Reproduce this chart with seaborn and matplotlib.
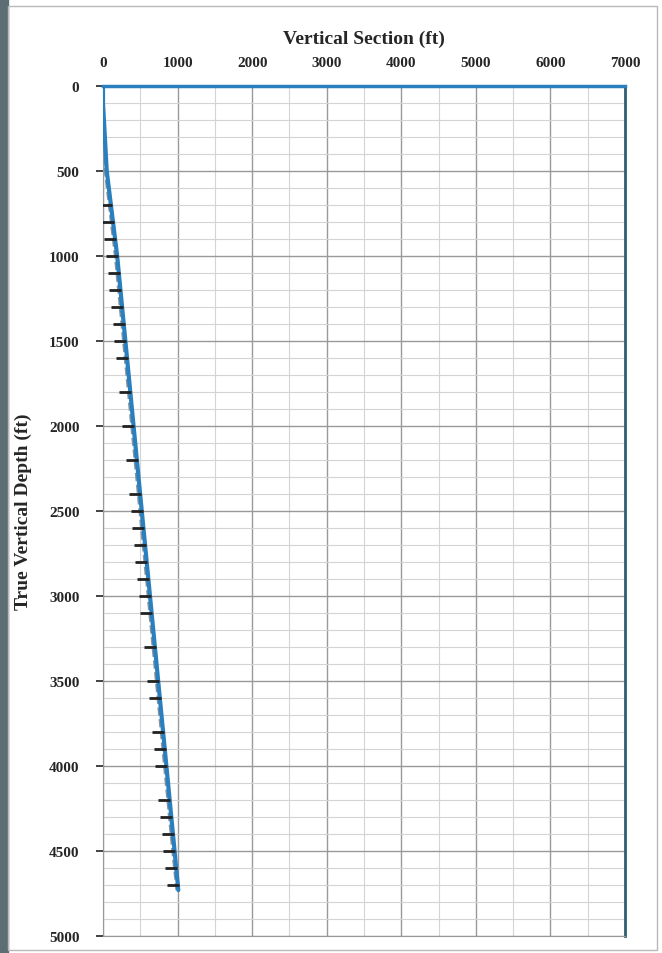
import matplotlib
matplotlib.use('Agg')
import matplotlib.pyplot as plt
import seaborn as sns
from matplotlib.ticker import MultipleLocator
from matplotlib.patches import Rectangle

# Planned well path (vertical section vs true vertical depth)
plan_tvd = [0, 100, 500, 1000, 1500, 2000, 2500, 3000, 3500, 4000, 4500, 4730]
plan_vs = [0, 0, 50, 190, 300, 410, 520, 630, 740, 850, 960, 1010]

# Survey path drawn slightly left of the plan
survey_tvd = [0, 150, 500, 1000, 1500, 2000, 2500, 3000, 3500, 4000, 4500, 4730]
survey_vs = [0, -20, 25, 160, 270, 380, 490, 600, 710, 820, 930, 985]

# Survey station ticks
tick_tvd = [700, 800, 900, 1000, 1100, 1200, 1300, 1400, 1500, 1600, 1800, 2000,
            2200, 2400, 2500, 2600, 2700, 2800, 2900, 3000, 3100, 3300, 3500, 3600,
            3800, 3900, 4000, 4200, 4300, 4400, 4500, 4600, 4700]
tick_vs = [36, 64, 92, 120, 142, 164, 186, 208, 230, 252, 296, 340,
           384, 428, 450, 472, 494, 516, 538, 560, 582, 626, 670, 692,
           736, 758, 780, 824, 846, 868, 890, 912, 934]

sns.set_style("white")
plt.rcParams['font.family'] = ['Liberation Serif', 'DejaVu Serif']

fig = plt.figure(figsize=(6.62, 9.54), dpi=100)
ax = fig.add_axes([0.1556, 0.0178, 0.7885, 0.891])

# scan border bits
fig.patches.append(Rectangle((0, 0), 0.012, 1, transform=fig.transFigure,
                             color='#5d6d74', zorder=0))
fig.patches.append(Rectangle((0.012, 0.003), 0.98, 0.99, transform=fig.transFigure,
                             fill=False, edgecolor='#b8b8b8', lw=1, zorder=0))

sns.lineplot(x=survey_vs, y=survey_tvd, sort=False, estimator=None, ax=ax,
             color='#8c929c', lw=1.6, linestyle='--', zorder=3)
sns.lineplot(x=plan_vs, y=plan_tvd, sort=False, estimator=None, ax=ax,
             color='#2a80bf', lw=3, zorder=4)
ax.plot(tick_vs, tick_tvd, linestyle='none', marker='_', color='#222222',
        markersize=8, mew=2, zorder=5)

ax.set_xlim(0, 7000)
ax.set_ylim(5000, 0)
ax.xaxis.set_major_locator(MultipleLocator(1000))
ax.xaxis.set_minor_locator(MultipleLocator(500))
ax.yaxis.set_major_locator(MultipleLocator(500))
ax.yaxis.set_minor_locator(MultipleLocator(100))
ax.grid(which='major', color='#999999', lw=1.0)
ax.grid(which='minor', color='#d4d4d4', lw=0.8)
ax.set_axisbelow(True)

ax.xaxis.tick_top()
ax.xaxis.set_label_position('top')
ax.tick_params(axis='x', which='major', length=0, pad=12, labelsize=11)
ax.tick_params(axis='y', which='major', length=5, width=1.2, color='#222222',
               direction='out', pad=12, labelsize=11, left=True)
ax.tick_params(which='minor', length=0)
for lab in ax.get_xticklabels() + ax.get_yticklabels():
    lab.set_fontweight('bold')

ax.set_xlabel('Vertical Section (ft)', fontsize=14, fontweight='bold', labelpad=10)
ax.set_ylabel('True Vertical Depth (ft)', fontsize=14, fontweight='bold', labelpad=12)

ax.spines['top'].set_color('#2a80bf')
ax.spines['top'].set_linewidth(2.5)
ax.spines['right'].set_color('#2f5f70')
ax.spines['right'].set_linewidth(2)
ax.spines['left'].set_color('#999999')
ax.spines['bottom'].set_color('#999999')

fig.savefig('out.png', dpi=100)
